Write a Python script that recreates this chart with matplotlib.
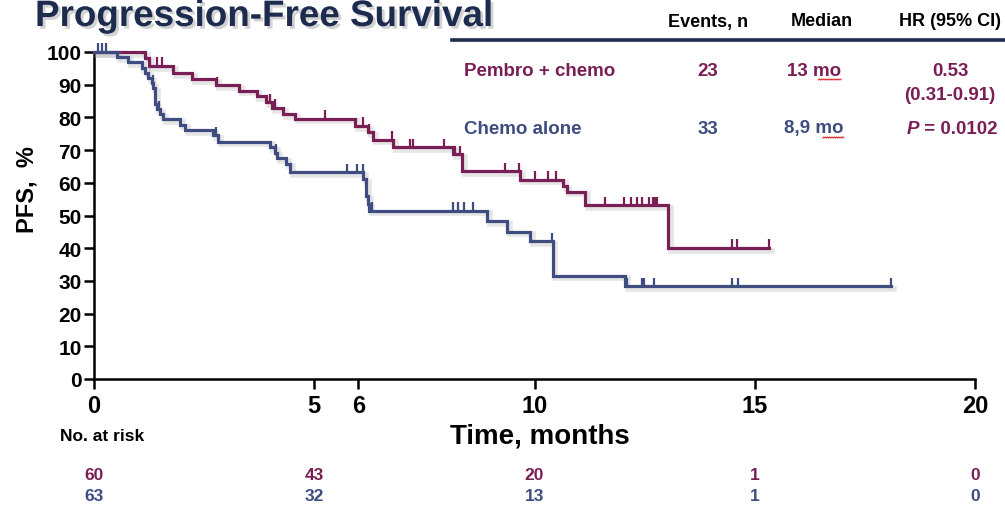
import numpy as np
import matplotlib
matplotlib.use("Agg")
import matplotlib.pyplot as plt
import matplotlib.patheffects as pe
import matplotlib.transforms as mtransforms
from matplotlib import font_manager as fm
from matplotlib.lines import Line2D


def pick(*names):
    for n in names:
        try:
            fm.findfont(fm.FontProperties(family=n), fallback_to_default=False)
            return n
        except Exception:
            pass
    return "DejaVu Sans"


SANS = pick("Liberation Sans", "Arial")
NARROW = pick("Liberation Sans Narrow", "Arial Narrow", "Liberation Sans")

# ---- data -----------------------------------------------------------------
pembro_times = [0, 1.16, 1.25, 1.79, 2.22, 2.77, 3.29, 3.69, 3.90, 4.05, 4.30,
                4.56, 5.93, 6.23, 6.34, 6.79, 8.16, 8.35, 9.67, 10.65, 10.73,
                11.15, 13.04]
pembro_surv = [100, 98.3, 95.8, 93.5, 91.7, 89.9, 88.2, 86.5, 84.7, 82.9, 81.0,
               79.6, 77.4, 75.4, 73.2, 70.8, 68.8, 63.6, 61.0, 59.1, 57.3,
               53.2, 40.1]
pembro_end = 15.32
pembro_censor = [1.43, 1.54, 2.80, 4.00, 4.12, 5.24, 6.10, 6.25, 6.77, 7.17,
                 7.25, 7.95, 8.20, 8.30, 9.33, 9.64, 10.01, 10.31, 10.49, 11.60,
                 12.03, 12.18, 12.32, 12.43, 12.61, 12.68, 12.73, 12.79, 14.49,
                 14.60, 15.32]

chemo_times = [0, 0.52, 0.77, 1.08, 1.16, 1.23, 1.31, 1.35, 1.38, 1.42, 1.50,
               1.57, 1.95, 2.07, 2.71, 2.82, 4.00, 4.11, 4.15, 4.37, 4.45, 6.11,
               6.17, 6.23, 6.25, 8.93, 9.37, 9.90, 10.41, 12.05]
chemo_surv = [100, 98.4, 96.8, 95.2, 93.7, 92.1, 90.5, 88.9, 84.1, 82.5, 81.0,
              79.4, 77.8, 76.2, 74.6, 72.6, 70.9, 69.2, 67.6, 65.9, 63.3, 61.2,
              56.0, 53.5, 51.5, 48.4, 45.1, 42.1, 31.6, 28.3]
chemo_end = 18.09
chemo_censor = [0.10, 0.19, 0.27, 1.34, 1.47, 2.78, 4.13, 5.74, 5.96, 6.10,
                6.30, 8.14, 8.26, 8.40, 8.61, 10.39, 12.09, 12.44, 12.48, 12.71,
                14.49, 14.63, 18.09]

x_ticks = [0, 5, 6, 10, 15, 20]
y_ticks = list(range(0, 101, 10))

risk_times = [0, 5, 10, 15, 20]
risk_pembro = [60, 43, 20, 1, 0]
risk_chemo = [63, 32, 13, 1, 0]

table_header = ["Events, n", "Median", "HR (95% CI)"]
pembro_row = ["Pembro + chemo", "23", "13 mo", "0.53", "(0.31-0.91)"]
chemo_row = ["Chemo alone", "33", "8,9 mo", "P", " = 0.0102"]

# ---- style ----------------------------------------------------------------
MAROON = "#7A1F55"
BLUE = "#3E4C80"
NAVY = "#1C2B4E"

W, H = 1005, 506
fig = plt.figure(figsize=(W / 100, H / 100), dpi=100)
fig.patch.set_facecolor("white")


def fx(px):
    return px / W


def fy(py):
    return 1 - py / H


ax = fig.add_axes([fx(94), fy(380), fx(975) - fx(94), fy(53) - fy(380)])
ax.set_xlim(0, 20)
ax.set_ylim(0, 100)

shadow = [pe.SimpleLineShadow(offset=(2, -2), shadow_color="#8a8a8a",
                              alpha=0.22, linewidth=4), pe.Normal()]


def draw_arm(times, surv, end, censor, color):
    t = np.array(times + [end])
    s = np.array(surv + [surv[-1]])
    ax.step(t, s, where="post", color=color, lw=2.3, solid_joinstyle="miter",
            path_effects=shadow, clip_on=False, zorder=3)
    idx = np.searchsorted(np.array(times), np.array(censor), side="right") - 1
    lv = np.array(surv)[idx]
    ax.vlines(censor, lv, lv + 2.6, colors=color, lw=1.6, clip_on=False,
              zorder=3)


draw_arm(pembro_times, pembro_surv, pembro_end, pembro_censor, MAROON)
draw_arm(chemo_times, chemo_surv, chemo_end, chemo_censor, BLUE)

for side in ("top", "right"):
    ax.spines[side].set_visible(False)
for side in ("left", "bottom"):
    ax.spines[side].set_linewidth(1.8)
    ax.spines[side].set_color("black")

ax.set_xticks(x_ticks)
ax.set_yticks(y_ticks)
ax.tick_params(axis="both", direction="out", length=7, width=1.8, colors="black")
ax.tick_params(axis="x", pad=4)
ax.tick_params(axis="y", pad=2)
for lab in ax.get_yticklabels():
    lab.set_fontfamily(SANS)
    lab.set_fontweight("bold")
    lab.set_fontsize(15)
for lab in ax.get_xticklabels():
    lab.set_fontfamily(NARROW)
    lab.set_fontweight("bold")
    lab.set_fontsize(17)

fig.text(fx(27), fy(190), "PFS,  %", rotation=90, ha="center", va="center",
         fontsize=17, fontweight="bold", family=SANS, color="black")
fig.text(fx(540), fy(437), "Time, months", ha="center", va="center",
         fontsize=20, fontweight="bold", family=NARROW, color="black")

# title
fig.text(fx(35), fy(27), "Progression-Free Survival", ha="left", va="baseline",
         fontsize=26.5, fontweight="bold", family=SANS, color=NAVY,
         path_effects=[pe.withSimplePatchShadow(offset=(2, -2),
                                                shadow_rgbFace="#808080",
                                                alpha=0.35)])

# summary table
fig.add_artist(Line2D([fx(452), 1.0], [fy(41), fy(41)], color=NAVY, lw=2.6))
head_x = [708, 822, 950]
for hx, txt in zip(head_x, table_header):
    fig.text(fx(hx), fy(22), txt, ha="center", va="center", fontsize=13,
             fontweight="bold", family=SANS, color="black")

row_kw = dict(va="center", fontsize=13.5, fontweight="bold", family=SANS)
fig.text(fx(464), fy(71), pembro_row[0], ha="left", color=MAROON, **row_kw)
fig.text(fx(708), fy(71), pembro_row[1], ha="center", color=MAROON, **row_kw)
med1 = fig.text(fx(814), fy(71), pembro_row[2], ha="center", color=MAROON,
                **row_kw)
fig.text(fx(950), fy(71), pembro_row[3], ha="center", color=MAROON, **row_kw)
fig.text(fx(950), fy(96), pembro_row[4], ha="center", color=MAROON, **row_kw)

fig.text(fx(464), fy(129), chemo_row[0], ha="left", color=BLUE, **row_kw)
fig.text(fx(708), fy(129), chemo_row[1], ha="center", color=BLUE, **row_kw)
med2 = fig.text(fx(814), fy(129), chemo_row[2], ha="center", color=BLUE,
                **row_kw)
pv = fig.text(fx(958), fy(129), chemo_row[4], ha="center", color=MAROON,
              **row_kw)
fig.canvas.draw()
renderer = fig.canvas.get_renderer()
bb = pv.get_window_extent(renderer)
fig.text(bb.x0 / W, fy(129), chemo_row[3], ha="right", color=MAROON,
         fontstyle="italic", **{k: v for k, v in row_kw.items()})

# red proofing squiggle under "mo"
for med in (med1, med2):
    mb = med.get_window_extent(renderer)
    x1 = mb.x1
    x0 = x1 - 0.42 * (mb.x1 - mb.x0) * (5 / len(med.get_text()))
    xs = np.linspace(x0, x1, 24)
    ys = mb.y0 - 1.5 + 1.0 * (np.arange(24) % 2)
    fig.add_artist(Line2D(xs / W, ys / H, color="#e03030", lw=0.8))

# number at risk
fig.text(fx(60), fy(437), "No. at risk", ha="left", va="center", fontsize=12.5,
         fontweight="bold", family=NARROW, color="black")
blend = mtransforms.blended_transform_factory(ax.transData, fig.transFigure)
for t, a, b in zip(risk_times, risk_pembro, risk_chemo):
    ax.text(t, fy(476), str(a), transform=blend, ha="center", va="center",
            fontsize=12.5, fontweight="bold", family=NARROW, color=MAROON,
            clip_on=False)
    ax.text(t, fy(497), str(b), transform=blend, ha="center", va="center",
            fontsize=12.5, fontweight="bold", family=NARROW, color=BLUE,
            clip_on=False)

fig.savefig("out.png", dpi=100, facecolor="white")
